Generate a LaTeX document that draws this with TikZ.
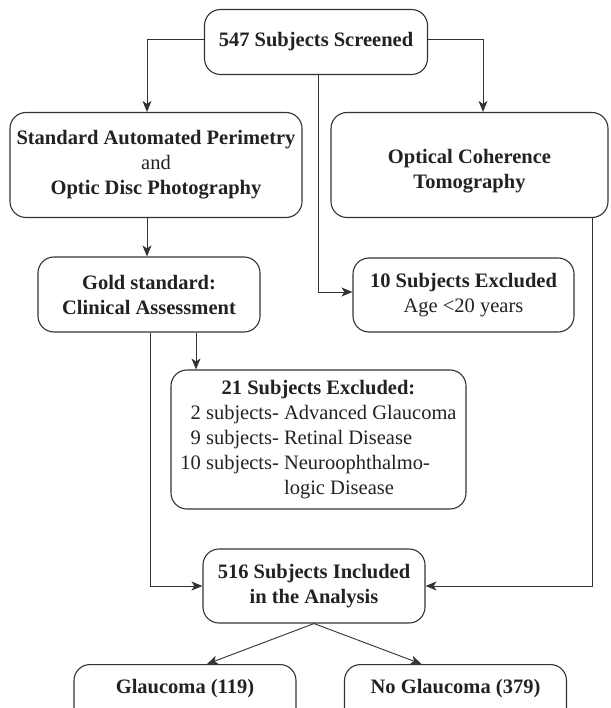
\documentclass[tikz,border=0pt]{standalone}
\usepackage{fontspec}
\setmainfont{Liberation Serif}
\usetikzlibrary{arrows.meta}
\definecolor{ink}{HTML}{222222}
\definecolor{edge}{HTML}{333333}
\begin{document}
\begin{tikzpicture}[x=1pt,y=-1pt,
  box/.style={draw=edge, line width=1.1pt, rounded corners=16pt, align=center, text=ink,
              inner sep=0pt, font=\fontsize{20.5}{25}\selectfont},
  arr/.style={draw=edge, line width=0.9pt, -{Stealth[length=11pt,width=9pt,inset=3pt]}},
  ln/.style={draw=edge, line width=0.9pt}]
\clip (0,0) rectangle (610,708);
\fill[white] (0,0) rectangle (610,708);

\node[box, minimum width=223pt, minimum height=65pt] (top) at (316,42) {\textbf{547 Subjects Screened}};
\node[box, minimum width=292pt, minimum height=105pt] (sap) at (156,165)
  {\textbf{Standard Automated Perimetry}\\and\\\textbf{Optic Disc Photography}};
\node[box, minimum width=277pt, minimum height=105pt] (oct) at (469.5,165)
  {\raisebox{-11pt}[0pt][0pt]{\begin{tabular}{@{}c@{}}\textbf{Optical Coherence}\\\textbf{Tomography}\end{tabular}}};
\node[box, minimum width=222pt, minimum height=75pt] (gold) at (149,294.5)
  {\textbf{Gold standard:}\\\textbf{Clinical Assessment}};
\node[box, minimum width=221pt, minimum height=74pt] (ex10) at (463.5,295)
  {\textbf{10 Subjects Excluded}\\Age <20 years};
\node[box, minimum width=295pt, minimum height=139pt] (ex21) at (318.5,439.5)
  {\begin{tabular}{@{}r@{ }l@{ }l@{}}
   \multicolumn{3}{c}{\textbf{21 Subjects Excluded:}}\\
   2 & subjects- & Advanced Glaucoma\\
   9 & subjects- & Retinal Disease\\
   10 & subjects- & Neuroophthalmo-\\
     &           & logic Disease
   \end{tabular}};
\node[box, minimum width=222pt, minimum height=74pt] (inc) at (314,586)
  {\textbf{516 Subjects Included}\\\textbf{in the Analysis}};
\node[box, anchor=north, minimum width=222pt, minimum height=0pt, inner ysep=10pt,
      text height=19pt, text depth=40pt] (gl) at (185,664) {\textbf{Glaucoma (119)}};
\node[box, anchor=north, minimum width=222pt, minimum height=0pt, inner ysep=10pt,
      text height=19pt, text depth=40pt] (ngl) at (455.5,664) {\textbf{No Glaucoma (379)}};

\draw[arr] ([yshift=3pt]top.west) -| ([xshift=-9pt]sap.north);
\draw[arr] ([yshift=3pt]top.east) -| ([xshift=13.5pt]oct.north);
\draw[arr] ([xshift=2.5pt]top.south) |- ([yshift=3pt]ex10.west);
\draw[arr] ([xshift=-9pt]sap.south) -- ([xshift=-9pt]sap.south |- gold.north);
\draw[arr] ([xshift=47pt]gold.south) -- ([xshift=47pt]gold.south |- ex21.north);
\draw[arr] ([xshift=1pt]gold.south) |- (inc.west);
\draw[arr] ([xshift=122.5pt]oct.south) |- (inc.east);
\draw[arr] (inc.south) -- ([xshift=22pt]gl.north);
\draw[arr] (inc.south) -- ([xshift=-34pt]ngl.north);
\end{tikzpicture}
\end{document}
